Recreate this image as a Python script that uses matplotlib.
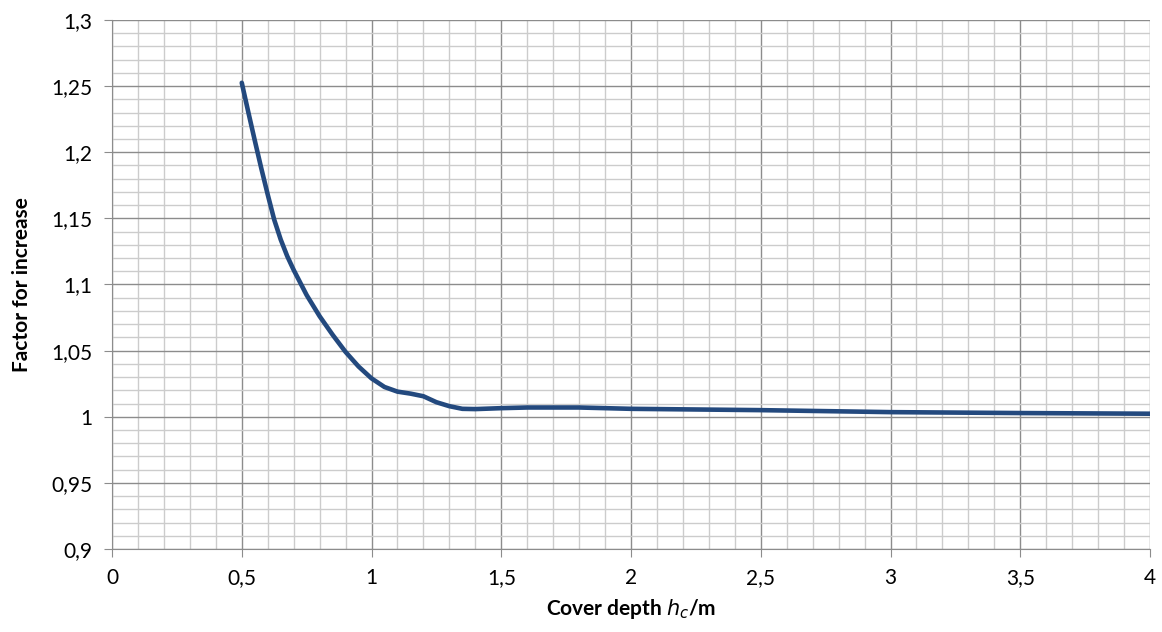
import matplotlib
matplotlib.use("Agg")
import matplotlib.pyplot as plt
from matplotlib.ticker import MultipleLocator, FuncFormatter

# cover depth h_c in m
depth = [0.5, 0.525, 0.55, 0.575, 0.6, 0.625, 0.65, 0.675, 0.7, 0.75, 0.8,
         0.85, 0.9, 0.95, 1.0, 1.05, 1.1, 1.15, 1.2, 1.25, 1.3, 1.35, 1.4,
         1.5, 1.6, 1.8, 2.0, 2.5, 3.0, 3.5, 4.0]
factor = [1.2525, 1.2305, 1.209, 1.188, 1.168, 1.149, 1.134, 1.1215, 1.111,
          1.092, 1.076, 1.062, 1.049, 1.038, 1.029, 1.0225, 1.019, 1.0175,
          1.0155, 1.011, 1.008, 1.006, 1.0058, 1.0065, 1.007, 1.007, 1.006,
          1.005, 1.0035, 1.0028, 1.0023]

plt.rcParams['font.family'] = ['Lato', 'DejaVu Sans']

fig = plt.figure(figsize=(11.62, 6.32), dpi=100)
ax = fig.add_axes([0.0964, 0.1313, 0.8933, 0.8371])

ax.plot(depth, factor, color='#23497E', linewidth=3.3,
        solid_joinstyle='round', solid_capstyle='round', zorder=3)

ax.set_xlim(0, 4)
ax.set_ylim(0.9, 1.3)
ax.xaxis.set_major_locator(MultipleLocator(0.5))
ax.xaxis.set_minor_locator(MultipleLocator(0.1))
ax.yaxis.set_major_locator(MultipleLocator(0.05))
ax.yaxis.set_minor_locator(MultipleLocator(0.01))

comma = FuncFormatter(lambda v, p: ('%g' % round(v, 3)).replace('.', ','))
ax.xaxis.set_major_formatter(comma)
ax.yaxis.set_major_formatter(comma)

ax.grid(which='major', color='#8c8c8c', linewidth=1.0)
ax.grid(which='minor', color='#cccccc', linewidth=1.0)
ax.set_axisbelow(True)

for s in ['top', 'right']:
    ax.spines[s].set_visible(False)
for s in ['left', 'bottom']:
    ax.spines[s].set_color('#8c8c8c')

ax.tick_params(which='major', length=6, color='#8c8c8c', labelsize=15, pad=8)
ax.tick_params(which='minor', length=0)

ax.set_xlabel('Cover depth $\\boldsymbol{h_c}$/m', fontsize=15, fontweight='bold', labelpad=6)
ax.set_ylabel('Factor for increase', fontsize=15, fontweight='bold', labelpad=14)

fig.savefig('out.png', dpi=100)
